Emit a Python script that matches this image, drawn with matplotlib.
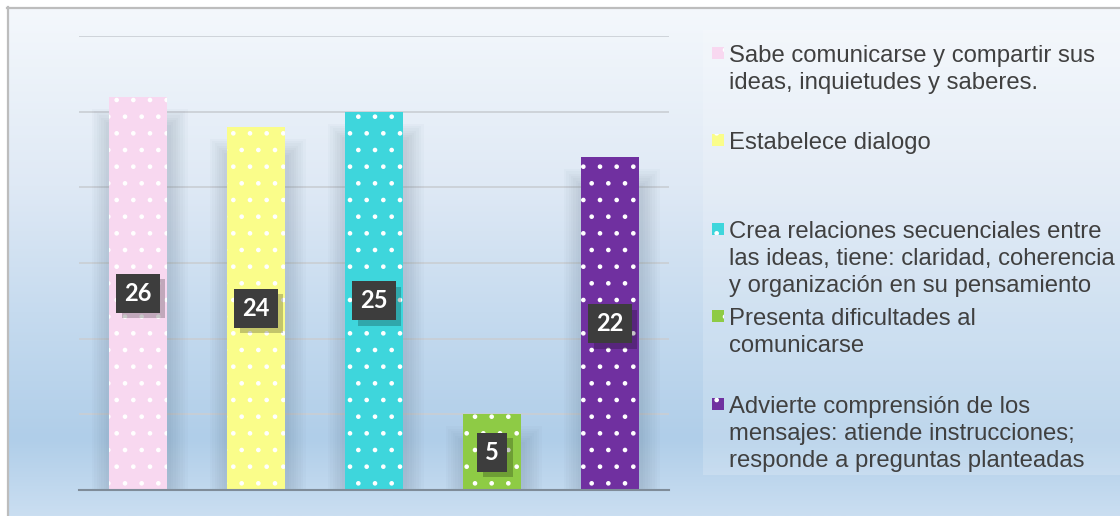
"""Bar chart: communication skills (dotted bars, gradient background, side legend)."""
import matplotlib.pyplot as plt
import matplotlib.patheffects as pe
import numpy as np
from matplotlib.colors import LinearSegmentedColormap
from matplotlib.patches import Rectangle

labels = [
    "Sabe comunicarse y compartir sus\nideas, inquietudes y saberes.",
    "Estabelece dialogo",
    "Crea relaciones secuenciales entre\nlas ideas, tiene: claridad, coherencia\ny organización en su pensamiento",
    "Presenta dificultades al\ncomunicarse",
    "Advierte comprensión de los\nmensajes: atiende instrucciones;\nresponde a preguntas planteadas",
]
values = [26, 24, 25, 5, 22]
colors = ["#F8D8F0", "#FAFD8A", "#3ED6DC", "#8ECB45", "#7030A0"]

W, H = 1120, 516
fig = plt.figure(figsize=(W / 100, H / 100), dpi=100, facecolor="white")
plt.rcParams["hatch.linewidth"] = 0.9

# gradient background inside the frame
bg = fig.add_axes([7 / W, 0, 1 - 7 / W, 509 / H])
bg.set_axis_off()
cmap = LinearSegmentedColormap.from_list(
    "bg", [(0, "#F4F8FC"), (0.35, "#DFE9F5"), (0.6, "#C6DBEF"),
           (0.85, "#B0CEE9"), (1.0, "#CADEF1")])
bg.imshow(np.linspace(0, 1, 256)[:, None], aspect="auto", cmap=cmap,
          extent=[0, 1, 0, 1])
# frame (left + top edges visible)
fig.add_artist(plt.Line2D([7.5 / W, 7.5 / W], [0, 509 / H], color="#BDBDBD", lw=1.6))
fig.add_artist(plt.Line2D([7 / W, 1], [508.5 / H, 508.5 / H], color="#BDBDBD", lw=1.6))
# lighter legend panel
fig.add_artist(Rectangle((703 / W, 41 / H), 1, 445 / H, transform=fig.transFigure,
                         facecolor="white", alpha=0.18, lw=0))

ax = fig.add_axes([79 / W, 26 / H, 590 / W, 454 / H])
ax.patch.set_alpha(0)
x = np.arange(len(values))
width = 0.49

# soft shadow behind bars
for k in range(1, 9):
    ax.bar(x + 0.015, np.array(values) + k * 0.15, width + k * 0.04, bottom=-2,
           color="#5A6E82", alpha=0.03, lw=0, zorder=1)

ax.bar(x, values, width, color=colors, edgecolor="white", lw=0, hatch=".", zorder=3)

ax.set_xlim(-0.5, len(values) - 0.5)
ax.set_ylim(0, 30)
ax.set_yticks(np.arange(5, 31, 5))
ax.yaxis.grid(True, color="#C9CED4", lw=1.2)
ax.set_axisbelow(True)
ax.tick_params(left=False, bottom=False, labelleft=False, labelbottom=False)
for s in ["left", "right", "top"]:
    ax.spines[s].set_visible(False)
ax.spines["bottom"].set_color("#7F8C99")
ax.spines["bottom"].set_linewidth(1.5)
ax.spines["bottom"].set_zorder(5)

# value labels in dark boxes
for xi, v in zip(x, values):
    t = ax.text(xi, v / 2, str(v), ha="center", va="center", fontsize=17,
                fontweight="bold", family="Lato", color="white",
                bbox=dict(boxstyle="square,pad=0.34", facecolor="#3D3D3D", lw=0),
                zorder=7)
    t.get_bbox_patch().set_path_effects(
        [pe.SimplePatchShadow(offset=(4, -4), shadow_rgbFace="black", alpha=0.22),
         pe.Normal()])

# legend drawn by hand to match the uneven spacing
first_baseline = [62, 149, 238, 325, 413]
line_step = 27
for lab, c, b in zip(labels, colors, first_baseline):
    fig.add_artist(Rectangle((712 / W, (H - b + 3) / H), 12 / W, 12 / H,
                             transform=fig.transFigure, facecolor=c,
                             edgecolor="white", lw=0, hatch="."))
    for i, line in enumerate(lab.split("\n")):
        fig.text(729 / W, (H - b - i * line_step) / H, line, ha="left",
                 va="baseline", fontsize=17.2, family="Liberation Sans",
                 color="#404040")

fig.savefig("out.png", dpi=100, facecolor=fig.get_facecolor())
